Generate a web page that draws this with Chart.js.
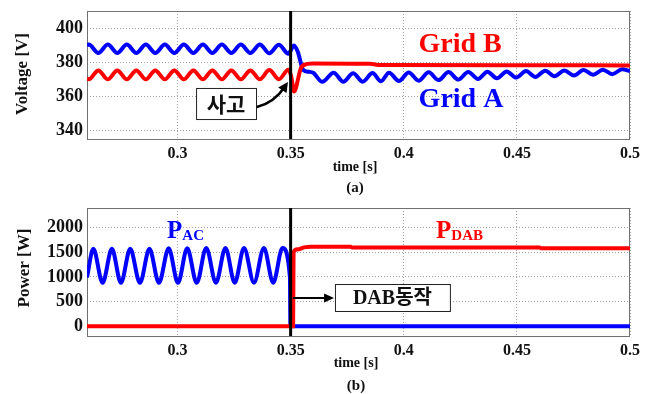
<!DOCTYPE html>
<html lang="ko">
<head>
<meta charset="UTF-8">
<title>계통 사고 시 전압 / 전력 파형</title>
<script src="https://cdn.jsdelivr.net/npm/chart.js@4"></script>
<style>
  html, body { margin: 0; padding: 0; background: #fff; }
  #wrap { position: relative; width: 656px; height: 394px; overflow: hidden; }
  canvas { position: absolute; left: 0; }
  #chartA { top: 0; }
  #chartB { top: 197px; }
</style>
</head>
<body>
<div id="wrap">
  <canvas id="chartA" width="656" height="197"></canvas>
  <canvas id="chartB" width="656" height="197"></canvas>
</div>
<script>
// 축 눈금
const xTicks = [0.3, 0.35, 0.4, 0.45, 0.5];
const xTickLabels = ['0.3', '0.35', '0.4', '0.45', '0.5'];
const voltTicks = [340, 360, 380, 400];
const powerTicks = [0, 500, 1000, 1500, 2000];

// (a) Grid A 전압 (파랑)
const gridA_t = [0.2600, 0.2608, 0.2650, 0.2692, 0.2734, 0.2776, 0.2818, 0.2860, 0.2902, 0.2944,
  0.2986, 0.3028, 0.3070, 0.3112, 0.3154, 0.3196, 0.3238, 0.3280, 0.3322, 0.3364,
  0.3406, 0.3448, 0.3490, 0.3515, 0.3532, 0.3556, 0.3580, 0.3600, 0.3640, 0.3690,
  0.3733, 0.3776, 0.3819, 0.3862, 0.3899, 0.3935, 0.3979, 0.4022, 0.4066, 0.4110,
  0.4154, 0.4198, 0.4241, 0.4285, 0.4328, 0.4370, 0.4412, 0.4455, 0.4497, 0.4540,
  0.4582, 0.4625, 0.4667, 0.4710, 0.4752, 0.4795, 0.4837, 0.4880, 0.4922, 0.4965, 0.5000];
const gridA_v = [390.0, 390.4, 385.4, 390.4, 385.4, 390.4, 385.4, 390.4, 385.4, 390.4,
  385.4, 390.4, 385.4, 390.4, 385.4, 390.4, 385.4, 390.4, 385.4, 390.4,
  385.2, 390.2, 385.0, 389.8, 386.0, 375.4, 374.4, 373.8, 368.5, 373.8,
  368.6, 373.5, 368.6, 373.6, 368.8, 373.8, 369.0, 374.0, 369.2, 374.1,
  369.5, 374.2, 369.8, 374.3, 370.2, 374.4, 370.6, 374.6, 371.0, 374.8,
  371.4, 375.0, 371.8, 375.2, 372.2, 375.4, 372.6, 375.6, 373.0, 375.8, 374.8];

// (a) Grid B 전압 (빨강)
const gridB_t = [0.2600, 0.2608, 0.2650, 0.2692, 0.2734, 0.2776, 0.2818, 0.2860, 0.2902, 0.2944,
  0.2986, 0.3028, 0.3070, 0.3112, 0.3154, 0.3196, 0.3238, 0.3280, 0.3322, 0.3364,
  0.3406, 0.3448, 0.3490, 0.3503, 0.3515, 0.3547, 0.3575, 0.3600, 0.3850, 0.3900,
  0.4500, 0.5000];
const gridB_v = [370.4, 370.0, 375.2, 370.0, 375.2, 370.0, 375.2, 370.0, 375.2, 370.0,
  375.2, 370.0, 375.2, 370.0, 375.2, 370.0, 375.2, 370.0, 375.2, 370.0,
  375.4, 370.0, 375.6, 371.5, 362.8, 377.0, 379.0, 379.3, 379.1, 378.3,
  378.2, 378.1];

// (b) P_AC (파랑)
const pAC_t = [0.2600, 0.2628, 0.2669, 0.2710, 0.2750, 0.2791, 0.2834, 0.2876, 0.2918, 0.2961,
  0.3002, 0.3043, 0.3085, 0.3127, 0.3170, 0.3212, 0.3253, 0.3294, 0.3338, 0.3382,
  0.3423, 0.3464, 0.3497, 0.3499, 0.5000];
const pAC_v = [990, 1570, 880, 1570, 880, 1570, 880, 1570, 880, 1580,
  880, 1580, 880, 1590, 880, 1590, 880, 1590, 880, 1590,
  880, 1590, 990, 0, 0];

// (b) P_DAB (빨강)
const pDAB_t = [0.2600, 0.3511, 0.3513, 0.3530, 0.3560, 0.3590, 0.3765, 0.3772, 0.4600, 0.4607, 0.5000];
const pDAB_v = [0, 0, 1500, 1560, 1600, 1615, 1615, 1600, 1600, 1580, 1580];

// 사고 시점 (0.35 s)
const faultT = [0.35, 0.35];
const faultVolt = [335, 410];
const faultPow = [-200, 2400];

const SERIF = '"Liberation Serif", "Times New Roman", serif';
const KFONT = '"Liberation Serif", "Noto Sans CJK KR", serif';
const BLUE = 'rgb(0,0,255)';
const RED = 'rgb(255,0,0)';

function pts(ts, vs) { return ts.map((t, i) => ({x: t, y: vs[i]})); }

function wave(ts, vs, color, order) {
  return {data: pts(ts, vs), borderColor: color, borderWidth: 4,
    cubicInterpolationMode: 'monotone', pointRadius: 0, order: order};
}

function text(ctx, s, x, y, font, color, align, base) {
  ctx.font = font;
  ctx.fillStyle = color;
  ctx.textAlign = align || 'center';
  ctx.textBaseline = base || 'middle';
  ctx.fillText(s, x, y);
}

function head(ctx, x, y, ang, len, wid) {
  const c = Math.cos(ang), s = Math.sin(ang);
  ctx.beginPath();
  ctx.moveTo(x, y);
  ctx.lineTo(x - len * c + wid * s, y - len * s - wid * c);
  ctx.lineTo(x - len * c - wid * s, y - len * s + wid * c);
  ctx.closePath();
  ctx.fill();
}

function px(chart, t, v) {
  return [chart.scales.x.getPixelForValue(t), chart.scales.y.getPixelForValue(v)];
}

function makeChart(id, datasets, yMin, yMax, yTicks, yTitle, yTitlePos, tag, annotate) {
  const deco = {
    id: 'deco',
    beforeDatasetsDraw(chart) {
      const {ctx, chartArea: a} = chart;
      ctx.save();
      ctx.strokeStyle = '#707070';
      ctx.lineWidth = 1;
      ctx.strokeRect(a.left + 0.5, a.top + 0.5, a.right - a.left - 1, a.bottom - a.top);
      ctx.restore();
    },
    afterDatasetsDraw(chart) {
      const ctx = chart.ctx;
      ctx.save();
      annotate(chart, ctx);
      ctx.restore();
    },
    afterDraw(chart) {
      const ctx = chart.ctx;
      ctx.save();
      text(ctx, 'time [s]', tag.x, tag.timeY, 'bold 14px ' + SERIF, '#111');
      text(ctx, tag.label, tag.x, tag.tagY, 'bold 15px ' + SERIF, '#111');
      ctx.translate(yTitlePos[0], yTitlePos[1]);
      ctx.rotate(-Math.PI / 2);
      text(ctx, yTitle, 0, 0, 'bold 17px ' + SERIF, '#111');
      ctx.restore();
    }
  };
  return new Chart(document.getElementById(id), {
    type: 'line',
    data: {datasets: datasets},
    options: {
      responsive: false,
      animation: false,
      layout: {padding: {top: 11, right: 26, left: 0, bottom: 0}},
      plugins: {legend: {display: false}, tooltip: {enabled: false}},
      scales: {
        x: {
          type: 'linear', min: 0.26, max: 0.5,
          afterBuildTicks: s => { s.ticks = xTicks.map(v => ({value: v})); },
          afterFit: s => { s.height = 58; s.paddingLeft = 0; s.paddingRight = 0; },
          grid: {color: '#a0a0a0', lineWidth: 1, drawTicks: false},
          border: {display: false, dash: [1, 2]},
          ticks: {padding: 5, color: '#111', autoSkip: false, maxRotation: 0,
            font: {family: SERIF, size: 16, weight: 'bold'},
            callback: (v, i) => xTickLabels[i]}
        },
        y: {
          type: 'linear', min: yMin, max: yMax,
          afterBuildTicks: s => { s.ticks = yTicks.map(v => ({value: v})); },
          afterFit: s => { s.width = 87; s.paddingTop = 0; s.paddingBottom = 0; },
          grid: {color: '#a0a0a0', lineWidth: 1, drawTicks: false},
          border: {display: false, dash: [1, 2]},
          ticks: {padding: 4, color: '#111', autoSkip: false,
            font: {family: SERIF, size: 18, weight: 'bold'},
            callback: v => String(v)}
        }
      }
    },
    plugins: [deco]
  });
}

// (a) 전압
makeChart('chartA', [
  {data: pts(faultT, faultVolt), borderColor: '#000', borderWidth: 3, pointRadius: 0, order: 0},
  wave(gridB_t, gridB_v, RED, 1),
  wave(gridA_t, gridA_v, BLUE, 2)
], 335, 410, voltTicks, 'Voltage [V]', [23, 74],
  {x: 355, timeY: 167, tagY: 188, label: '(a)'},
  function (c, ctx) {
    let p = px(c, 0.4249, 390.0);
    text(ctx, 'Grid B', p[0], p[1], 'bold 28px ' + SERIF, RED);
    p = px(c, 0.4253, 358.0);
    text(ctx, 'Grid A', p[0], p[1], 'bold 28px ' + SERIF, BLUE);
    // 사고 박스
    const b0 = px(c, 0.3082, 364.9), b1 = px(c, 0.3347, 346.7);
    ctx.fillStyle = '#fff';
    ctx.fillRect(b0[0], b0[1], b1[0] - b0[0], b1[1] - b0[1]);
    ctx.strokeStyle = '#222';
    ctx.lineWidth = 1;
    ctx.strokeRect(b0[0] + 0.5, b0[1] + 0.5, b1[0] - b0[0], b1[1] - b0[1]);
    text(ctx, '사고', (b0[0] + b1[0]) / 2, (b0[1] + b1[1]) / 2 + 1, 'bold 21px "Noto Sans CJK KR", sans-serif', '#111');
    // 곡선 화살표
    const s = px(c, 0.3351, 353.8), k = px(c, 0.3427, 356.2), e = px(c, 0.3488, 368.4);
    const ang = Math.atan2(e[1] - k[1], e[0] - k[0]);
    ctx.strokeStyle = '#000';
    ctx.fillStyle = '#000';
    ctx.lineWidth = 2.5;
    ctx.beginPath();
    ctx.moveTo(s[0], s[1]);
    ctx.quadraticCurveTo(k[0], k[1], e[0] - 6 * Math.cos(ang), e[1] - 6 * Math.sin(ang));
    ctx.stroke();
    head(ctx, e[0], e[1], ang, 10, 5);
  });

// (b) 전력
makeChart('chartB', [
  {data: pts(faultT, faultPow), borderColor: '#000', borderWidth: 3, pointRadius: 0, order: 0},
  wave(pDAB_t, pDAB_v, RED, 1),
  wave(pAC_t, pAC_v, BLUE, 2)
], -200, 2400, powerTicks, 'Power [W]', [25, 71],
  {x: 356, timeY: 166, tagY: 189, label: '(b)'},
  function (c, ctx) {
    let p = px(c, 0.2954, 1791);
    text(ctx, 'P', p[0], p[1], 'bold 25px ' + SERIF, BLUE, 'left', 'alphabetic');
    let w = ctx.measureText('P').width;
    text(ctx, 'AC', p[0] + w, p[1] + 2, 'bold 15px ' + SERIF, BLUE, 'left', 'alphabetic');
    p = px(c, 0.4143, 1791);
    text(ctx, 'P', p[0], p[1], 'bold 25px ' + SERIF, RED, 'left', 'alphabetic');
    w = ctx.measureText('P').width;
    text(ctx, 'DAB', p[0] + w, p[1] + 2, 'bold 15px ' + SERIF, RED, 'left', 'alphabetic');
    // DAB동작 박스
    const b0 = px(c, 0.3696, 856), b1 = px(c, 0.4204, 308);
    ctx.fillStyle = '#fff';
    ctx.fillRect(b0[0], b0[1], b1[0] - b0[0], b1[1] - b0[1]);
    ctx.strokeStyle = '#222';
    ctx.lineWidth = 1;
    ctx.strokeRect(b0[0] + 0.5, b0[1] + 0.5, b1[0] - b0[0], b1[1] - b0[1]);
    text(ctx, 'DAB동작', (b0[0] + b1[0]) / 2, (b0[1] + b1[1]) / 2 + 1, 'bold 20px ' + KFONT, '#111');
    // 화살표
    const s = px(c, 0.3511, 572), e = px(c, 0.3692, 572);
    ctx.strokeStyle = '#000';
    ctx.fillStyle = '#000';
    ctx.lineWidth = 2;
    ctx.beginPath();
    ctx.moveTo(s[0], s[1]);
    ctx.lineTo(e[0] - 6, e[1]);
    ctx.stroke();
    head(ctx, e[0], e[1], 0, 10, 4.5);
  });
</script>
</body>
</html>
